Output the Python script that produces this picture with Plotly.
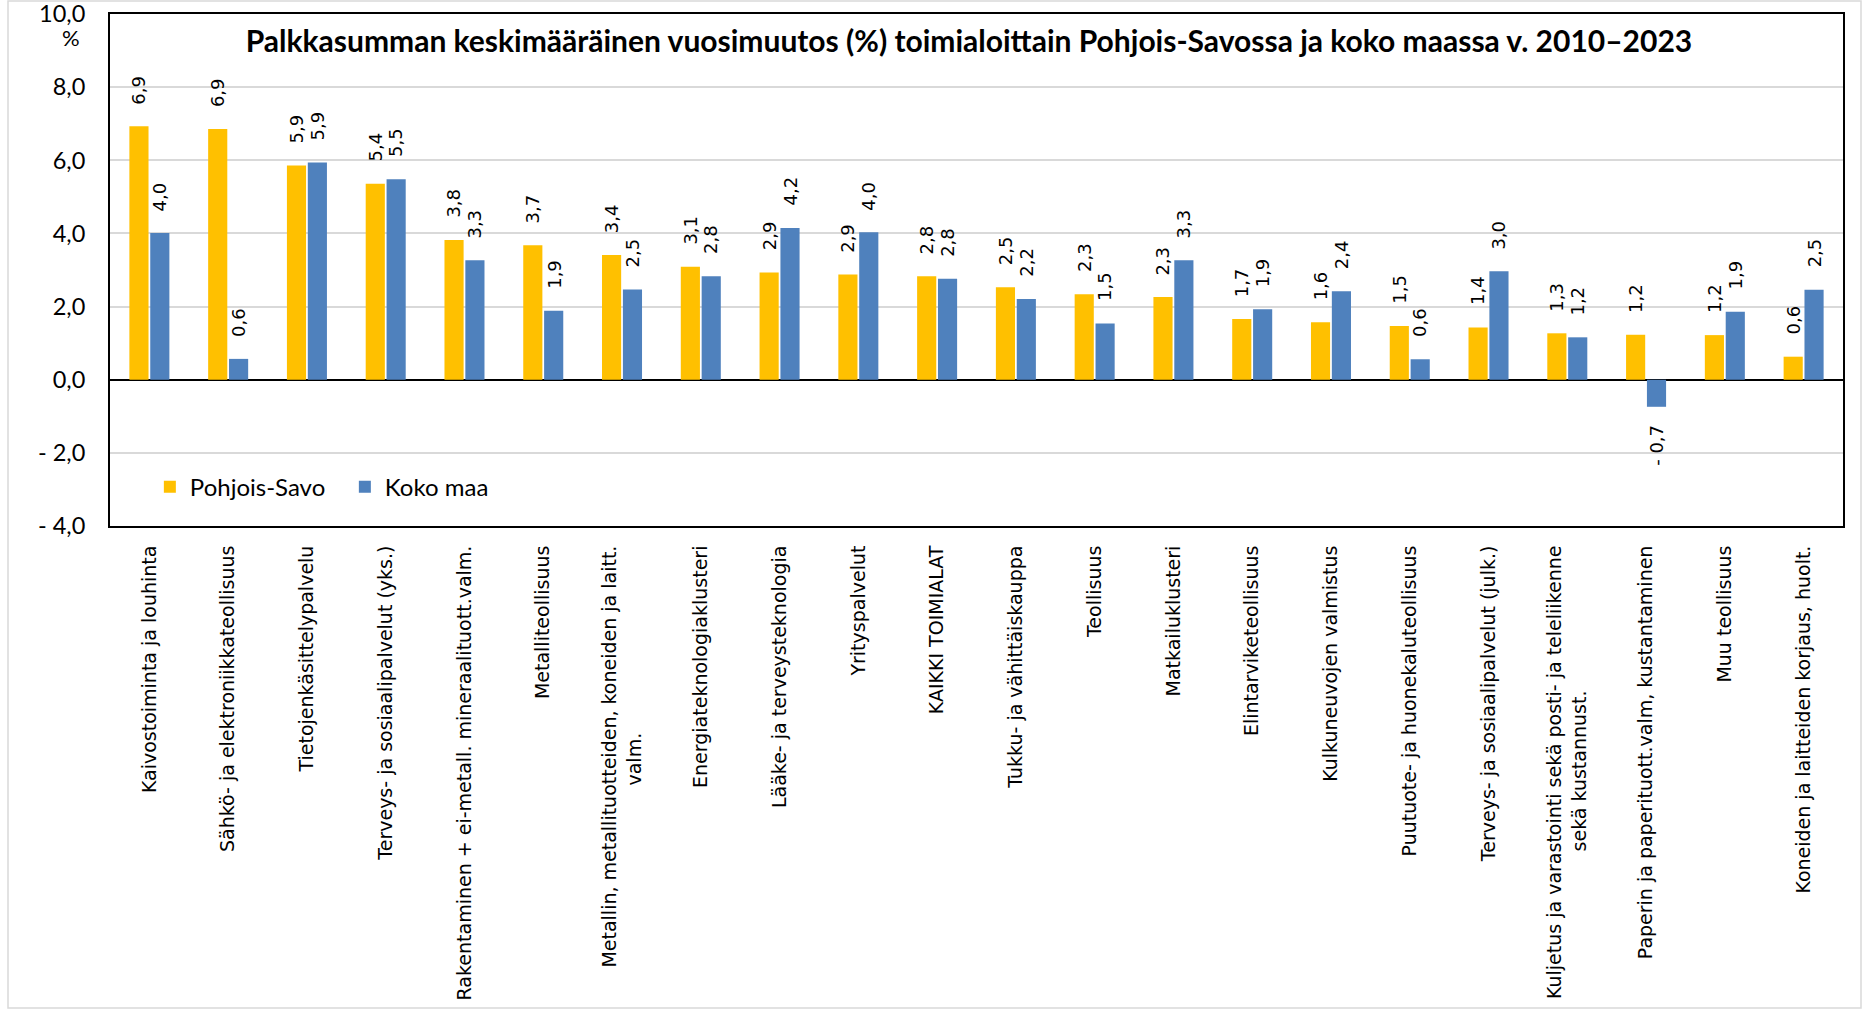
import plotly.graph_objects as go

categories = [
    "Kaivostoiminta ja louhinta",
    "Sähkö- ja elektroniikkateollisuus",
    "Tietojenkäsittelypalvelu",
    "Terveys- ja sosiaalipalvelut (yks.)",
    "Rakentaminen + ei-metall. mineraalituott.valm.",
    "Metalliteollisuus",
    "Metallin, metallituotteiden, koneiden ja laitt.<br>valm.",
    "Energiateknologiaklusteri",
    "Lääke- ja terveysteknologia",
    "Yrityspalvelut",
    "KAIKKI TOIMIALAT",
    "Tukku- ja vähittäiskauppa",
    "Teollisuus",
    "Matkailuklusteri",
    "Elintarviketeollisuus",
    "Kulkuneuvojen valmistus",
    "Puutuote- ja huonekaluteollisuus",
    "Terveys- ja sosiaalipalvelut (julk.)",
    "Kuljetus ja varastointi sekä posti- ja teleliikenne<br>sekä kustannust.",
    "Paperin ja paperituott.valm, kustantaminen",
    "Muu teollisuus",
    "Koneiden ja laitteiden korjaus, huolt.",
]

pohjois_savo = [6.93, 6.86, 5.86, 5.36, 3.82, 3.68, 3.41, 3.09, 2.93, 2.88, 2.83,
                2.53, 2.34, 2.26, 1.66, 1.57, 1.47, 1.43, 1.27, 1.23, 1.22, 0.63]
koko_maa = [4.01, 0.57, 5.94, 5.48, 3.27, 1.89, 2.47, 2.83, 4.15, 4.03, 2.76,
            2.21, 1.54, 3.27, 1.93, 2.42, 0.56, 2.97, 1.16, -0.74, 1.86, 2.46]

series_names = ["Pohjois-Savo", "Koko maa"]
y_tickvals = [-4, -2, 0, 2, 4, 6, 8, 10]
y_ticktext = ["- 4,0", "- 2,0", "0,0", "2,0", "4,0", "6,0", "8,0", "10,0"]
title_text = "Palkkasumman keskimääräinen vuosimuutos (%) toimialoittain Pohjois-Savossa ja koko maassa v. 2010–2023"

YELLOW = "#FFC000"
BLUE = "#4F81BD"
BAR_W = 0.243
OFFSETS = [-0.254, 0.011]
# trailing non-breaking spaces that centre the second line of wrapped, rotated labels
SECOND_LINE_PAD = {6: 31, 18: 24}


def fi(v):
    s = f"{abs(v):.1f}".replace(".", ",")
    return ("- " + s) if round(v, 1) < 0 else s


x_idx = list(range(len(categories)))
tick_labels = [c + "\u00a0" * SECOND_LINE_PAD.get(i, 0) for i, c in enumerate(categories)]

fig = go.Figure()
for name, vals, col, off in zip(series_names, [pohjois_savo, koko_maa], [YELLOW, BLUE], OFFSETS):
    fig.add_trace(go.Bar(
        x=x_idx, y=vals, name=name,
        marker=dict(color=col, line=dict(width=0)),
        width=BAR_W, offset=off,
    ))

annotations = []
for vals, off in zip([pohjois_savo, koko_maa], OFFSETS):
    for i, v in enumerate(vals):
        pos = v >= 0
        annotations.append(dict(
            x=i + off + BAR_W / 2, y=v, xref="x", yref="y",
            text=fi(v), showarrow=False, textangle=-90,
            yanchor="bottom" if pos else "top", xanchor="center",
            yshift=20 if pos else -16,
            font=dict(family="DejaVu Sans", size=18, color="black"),
        ))

annotations.append(dict(
    x=-0.0225, y=0.955, xref="paper", yref="paper", text="%",
    showarrow=False, xanchor="center", yanchor="middle",
    font=dict(family="Lato", size=22, color="black"),
))

fig.update_layout(
    width=1867, height=1012,
    margin=dict(l=110, r=24, t=14, b=486, pad=0, autoexpand=False),
    paper_bgcolor="white", plot_bgcolor="white",
    barmode="overlay",
    title=dict(
        text="<b>" + title_text + "</b>",
        xref="container", yref="container", x=0.519, y=0.9585,
        xanchor="center", yanchor="middle",
        font=dict(family="Lato", size=30, color="black"),
    ),
    legend=dict(
        orientation="h", x=0.023, y=0.076, xanchor="left", yanchor="middle",
        bgcolor="rgba(0,0,0,0)", font=dict(family="Lato", size=24, color="black"),
        entrywidth=150, entrywidthmode="pixels",
    ),
    annotations=annotations,
    shapes=[dict(
        type="rect", xref="paper", yref="paper",
        x0=(8 - 110) / 1733, x1=(1861 - 110) / 1733,
        y0=(526 - 1008) / 512, y1=(526 - 1) / 512,
        line=dict(color="#d9d9d9", width=1.5), fillcolor="rgba(0,0,0,0)", layer="below",
    )],
    showlegend=True,
)

fig.update_xaxes(
    range=[-0.5, len(categories) - 0.5],
    tickmode="array", tickvals=x_idx, ticktext=tick_labels, tickangle=-90,
    tickfont=dict(family="DejaVu Sans", size=19, color="black"),
    showgrid=False, zeroline=False, ticks="", ticklabelstandoff=10,
    showline=True, mirror=True, linecolor="black", linewidth=2, automargin=False,
)
fig.update_yaxes(
    range=[-4, 10.002], tickmode="array", tickvals=y_tickvals, ticktext=y_ticktext,
    tickfont=dict(family="Lato", size=23.5, color="black"),
    showgrid=True, gridcolor="#d9d9d9", gridwidth=1.5,
    zeroline=True, zerolinecolor="black", zerolinewidth=1.5,
    ticks="", ticklabelstandoff=18, ticklabeloverflow="allow",
    showline=True, mirror=True, linecolor="black", linewidth=2, automargin=False,
)

fig.write_html(
    "out.html",
    config={"displayModeBar": False},
    post_script="document.body.style.margin='0';document.body.style.overflow='hidden';",
)
